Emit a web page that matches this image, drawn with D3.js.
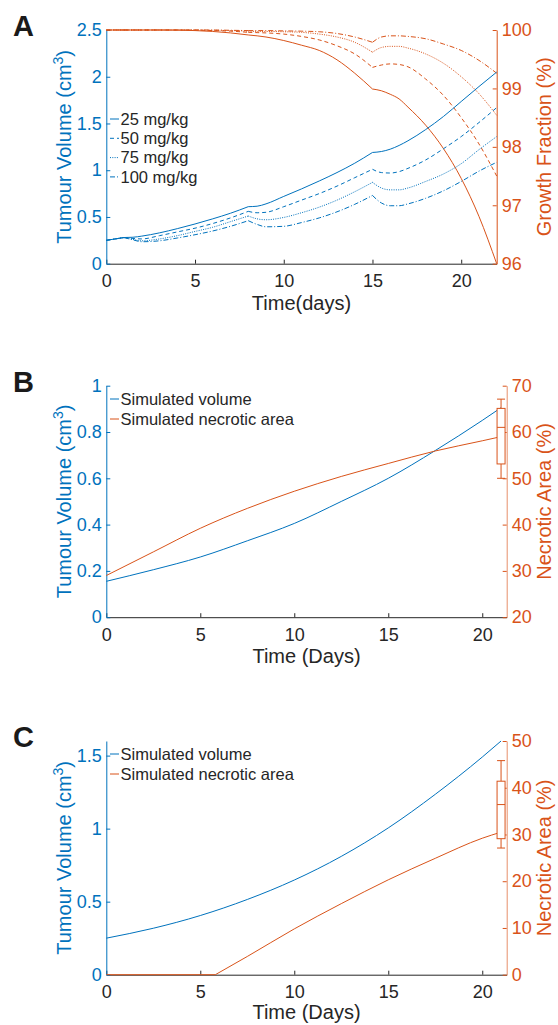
<!DOCTYPE html>
<html>
<head>
<meta charset="utf-8">
<script src="https://cdn.jsdelivr.net/npm/d3@7"></script>
<style>
body { margin: 0; background: #fff; }
svg { display: block; font-family: "Liberation Sans", Arial, Helvetica, sans-serif; }
</style>
</head>
<body>
<div id="chart"></div>
<script>
// ---- panel A : dosing simulation ----
var daysA = [0, 1, 1.5, 2, 3, 4, 5, 6, 7, 8, 8.5, 9, 10, 11, 12, 13, 14, 15, 15.5, 16, 16.5, 17, 18, 19, 20, 21, 22];
var doseDays = [1, 8, 15];
var doseLabels = ['25 mg/kg', '50 mg/kg', '75 mg/kg', '100 mg/kg'];

var vol25 = [0.25, 0.28, 0.283, 0.295, 0.33, 0.375, 0.425, 0.48, 0.54, 0.61, 0.615, 0.64, 0.72, 0.80, 0.885, 0.975, 1.075, 1.19, 1.20, 1.225, 1.265, 1.315, 1.435, 1.575, 1.735, 1.895, 2.05];
var vol50 = [0.25, 0.28, 0.27, 0.265, 0.30, 0.34, 0.38, 0.43, 0.49, 0.56, 0.545, 0.55, 0.61, 0.68, 0.75, 0.83, 0.92, 1.01, 0.975, 0.97, 0.985, 1.02, 1.11, 1.23, 1.36, 1.51, 1.67];
var vol75 = [0.25, 0.28, 0.26, 0.245, 0.265, 0.30, 0.345, 0.39, 0.45, 0.51, 0.48, 0.47, 0.495, 0.545, 0.605, 0.68, 0.77, 0.87, 0.81, 0.79, 0.79, 0.81, 0.88, 0.96, 1.07, 1.22, 1.36];
var vol100 = [0.25, 0.28, 0.255, 0.235, 0.245, 0.275, 0.31, 0.35, 0.40, 0.46, 0.42, 0.395, 0.40, 0.44, 0.49, 0.555, 0.635, 0.73, 0.65, 0.62, 0.62, 0.64, 0.70, 0.78, 0.88, 0.99, 1.085];

var gf25 = [100, 100, 100, 100, 100, 99.998, 99.99, 99.975, 99.95, 99.915, 99.9, 99.88, 99.82, 99.74, 99.65, 99.49, 99.26, 98.99, 98.96, 98.9, 98.82, 98.68, 98.37, 97.97, 97.46, 96.81, 96.0];
var gf50 = [100, 100, 100, 100, 100, 100, 99.998, 99.99, 99.98, 99.96, 99.955, 99.95, 99.93, 99.89, 99.83, 99.73, 99.59, 99.36, 99.40, 99.42, 99.41, 99.37, 99.16, 98.88, 98.5, 98.05, 97.5];
var gf75 = [100, 100, 100, 100, 100, 100, 100, 99.995, 99.99, 99.98, 99.975, 99.975, 99.97, 99.96, 99.93, 99.88, 99.79, 99.62, 99.70, 99.72, 99.72, 99.69, 99.59, 99.43, 99.2, 98.91, 98.54];
var gf100 = [100, 100, 100, 100, 100, 100, 100, 100, 99.995, 99.99, 99.99, 99.99, 99.985, 99.98, 99.97, 99.94, 99.88, 99.79, 99.88, 99.90, 99.90, 99.89, 99.85, 99.76, 99.65, 99.48, 99.26];

// ---- panel B ----
var daysB = [0, 2.5, 5, 7.5, 10, 12.5, 15, 17.5, 20, 21];
var volB = [0.155, 0.205, 0.26, 0.33, 0.405, 0.50, 0.60, 0.72, 0.85, 0.905];
var necB = [29.0, 34.1, 39.2, 43.5, 47.2, 50.4, 53.2, 55.9, 58.1, 59.0];
var boxB = [50.0, 53.1, 61.0, 65.1, 67.1]; // min, q1, median, q3, max

// ---- panel C ----
var daysC = [0, 2.5, 5, 7.5, 10, 12.5, 15, 17.5, 20, 21];
var volC = [0.25, 0.318, 0.405, 0.515, 0.648, 0.81, 1.005, 1.235, 1.49, 1.6];
var necDaysC = [0, 5.8, 7.5, 10, 12.5, 15, 17.5, 20, 21];
var necC = [0, 0, 3.9, 9.8, 15.2, 20.3, 24.9, 29.2, 30.5];
var boxC = [27.1, 29.1, 36.4, 41.4, 45.8];
var boxDay = 21;

var seriesLabels = ['Simulated volume', 'Simulated necrotic area'];

var blue = '#0072BD', orange = '#D95319', ink = '#262626';
var dashes = [null, '4,3', '1,1.3', '5,2,1,2'];

var svg = d3.select('#chart').append('svg')
  .attr('width', 558)
  .attr('height', 1025);

var fmt = d3.format('~g');

function Panel(o) {
  var p = this;
  p.o = o;
  p.x = d3.scaleLinear().domain([0, o.xMax]).range([o.left, o.right]);
  p.yL = d3.scaleLinear().domain(o.yL).range([o.bottom, o.top]);
  p.yR = d3.scaleLinear().domain(o.yR).range([o.bottom, o.top]);
  p.g = svg.append('g');

  var gx = p.g.append('g')
    .attr('transform', 'translate(0,' + o.bottom + ')')
    .attr('color', ink)
    .call(d3.axisBottom(p.x).tickValues([0, 5, 10, 15, 20]).tickSizeInner(-4).tickSizeOuter(0).tickPadding(10.8).tickFormat(fmt));
  var gl = p.g.append('g')
    .attr('transform', 'translate(' + o.left + ',0)')
    .attr('color', blue)
    .call(d3.axisLeft(p.yL).tickValues(o.ticksL).tickSizeInner(-4).tickSizeOuter(0).tickPadding(4.5).tickFormat(fmt));
  var gr = p.g.append('g')
    .attr('transform', 'translate(' + o.right + ',0)')
    .attr('color', orange)
    .call(d3.axisRight(p.yR).tickValues(o.ticksR).tickSizeInner(-4).tickSizeOuter(0).tickPadding(5).tickFormat(fmt));
  gr.select('.domain').attr('stroke-opacity', o.rightOpacity);
  [gx, gl, gr].forEach(function(a) {
    a.attr('font-family', null).attr('font-size', null);
    a.selectAll('text').style('font-size', '18px');
  });

  // titles
  var lt = p.g.append('text')
    .attr('transform', 'translate(' + o.titleL + ',' + (o.top + o.bottom) / 2 + ') rotate(-90)')
    .attr('text-anchor', 'middle')
    .attr('fill', blue)
    .style('font-size', '20px');
  lt.append('tspan').text('Tumour Volume (cm');
  lt.append('tspan').attr('dy', -8.5).style('font-size', '14px').text('3');
  lt.append('tspan').attr('dy', 8.5).text(')');

  p.g.append('text')
    .attr('transform', 'translate(' + o.titleR + ',' + (o.top + o.bottom) / 2 + ') rotate(-90)')
    .attr('text-anchor', 'middle')
    .attr('fill', orange)
    .style('font-size', '20px')
    .text(o.rightLabel);

  p.g.append('text')
    .attr('x', (o.left + o.right) / 2)
    .attr('y', o.titleX)
    .attr('text-anchor', 'middle')
    .attr('fill', ink)
    .style('font-size', '20px')
    .text(o.xLabel);

  p.g.append('text')
    .attr('x', 13)
    .attr('y', o.letterY)
    .attr('fill', '#1a1a1a')
    .style('font-size', '29px')
    .style('font-weight', 'bold')
    .text(o.letter);

  p.lines = p.g.append('g').attr('fill', 'none').attr('stroke-width', 1);
}

// one path made of smooth pieces that meet in corners at the break days
Panel.prototype.curve = function(days, vals, yScale, breaks) {
  var p = this;
  var line = d3.line()
    .x(function(d) { return p.x(d[0]); })
    .y(function(d) { return yScale(d[1]); })
    .curve(d3.curveMonotoneX);
  var pts = days.map(function(d, i) { return [d, vals[i]]; });
  var edges = [days[0]].concat(breaks || []).concat([days[days.length - 1]]);
  var out = '';
  for (var i = 0; i < edges.length - 1; i++) {
    var seg = pts.filter(function(d) { return d[0] >= edges[i] && d[0] <= edges[i + 1]; });
    if (seg.length > 1) out += line(seg);
  }
  return out;
};

Panel.prototype.addLine = function(days, vals, side, color, dash, breaks) {
  this.lines.append('path')
    .attr('d', this.curve(days, vals, side == 'L' ? this.yL : this.yR, breaks))
    .attr('stroke', color)
    .attr('stroke-dasharray', dash);
};

Panel.prototype.addBox = function(day, s) {
  var cx = this.x(day), y = this.yR;
  var b = this.g.append('g').attr('stroke', orange).attr('stroke-width', 1).attr('fill', 'none');
  b.append('line').attr('x1', cx).attr('x2', cx).attr('y1', y(s[0])).attr('y2', y(s[1]));
  b.append('line').attr('x1', cx).attr('x2', cx).attr('y1', y(s[3])).attr('y2', y(s[4]));
  b.append('line').attr('x1', cx - 4).attr('x2', cx + 4).attr('y1', y(s[0])).attr('y2', y(s[0]));
  b.append('line').attr('x1', cx - 4).attr('x2', cx + 4).attr('y1', y(s[4])).attr('y2', y(s[4]));
  b.append('rect').attr('x', cx - 4).attr('width', 8).attr('y', y(s[3])).attr('height', y(s[1]) - y(s[3]))
    .attr('fill', '#fff');
  b.append('line').attr('x1', cx - 4).attr('x2', cx + 4).attr('y1', y(s[2])).attr('y2', y(s[2]));
};

Panel.prototype.legend = function(items, x0, y0, step) {
  var lg = this.g.append('g');
  items.forEach(function(it, i) {
    var yy = y0 + i * step;
    lg.append('line').attr('x1', x0).attr('x2', x0 + 9).attr('y1', yy).attr('y2', yy)
      .attr('stroke', it.color).attr('stroke-dasharray', it.dash);
    lg.append('text').attr('x', x0 + 10.5).attr('y', yy).attr('dy', '0.35em')
      .attr('fill', ink).style('font-size', '16.5px').text(it.label);
  });
};

// ---- A ----
var pA = new Panel({
  left: 106.3, right: 496.7, top: 30, bottom: 263.7, xMax: 22,
  yL: [0, 2.5], yR: [96, 100], ticksL: [0, 0.5, 1, 1.5, 2, 2.5], ticksR: [96, 97, 98, 99, 100],
  rightOpacity: 1, titleL: 71, titleR: 551, titleX: 309.5, letter: 'A', letterY: 36,
  xLabel: 'Time(days)', rightLabel: 'Growth Fraction (%)'
});
[gf25, gf50, gf75, gf100].forEach(function(s, i) {
  pA.addLine(daysA, s, 'R', orange, dashes[i], doseDays);
});
[vol25, vol50, vol75, vol100].forEach(function(s, i) {
  pA.addLine(daysA, s, 'L', blue, dashes[i], doseDays);
});
pA.legend(doseLabels.map(function(l, i) { return { label: l, color: blue, dash: dashes[i] }; }), 110, 119, 19.3);

// ---- B ----
var pB = new Panel({
  left: 106.3, right: 506.7, top: 385.7, bottom: 617.2, xMax: 21.3,
  yL: [0, 1], yR: [20, 70], ticksL: [0, 0.2, 0.4, 0.6, 0.8, 1], ticksR: [20, 30, 40, 50, 60, 70],
  rightOpacity: 0.65, titleL: 71, titleR: 551, titleX: 663, letter: 'B', letterY: 392,
  xLabel: 'Time (Days)', rightLabel: 'Necrotic Area (%)'
});
pB.addLine(daysB, volB, 'L', blue, null);
pB.addLine(daysB, necB, 'R', orange, null);
pB.addBox(boxDay, boxB);
pB.legend([{ label: seriesLabels[0], color: blue }, { label: seriesLabels[1], color: orange }], 110, 399, 20);

// ---- C ----
var pC = new Panel({
  left: 106.3, right: 506.7, top: 741, bottom: 974.7, xMax: 21.3,
  yL: [0, 1.6], yR: [0, 50], ticksL: [0, 0.5, 1, 1.5], ticksR: [0, 10, 20, 30, 40, 50],
  rightOpacity: 0.65, titleL: 71, titleR: 551, titleX: 1019, letter: 'C', letterY: 747,
  xLabel: 'Time (Days)', rightLabel: 'Necrotic Area (%)'
});
pC.addLine(daysC, volC, 'L', blue, null);
pC.addLine(necDaysC, necC, 'R', orange, null, [5.8]);
pC.addBox(boxDay, boxC);
pC.legend([{ label: seriesLabels[0], color: blue }, { label: seriesLabels[1], color: orange }], 110, 754, 20);
</script>
</body>
</html>
